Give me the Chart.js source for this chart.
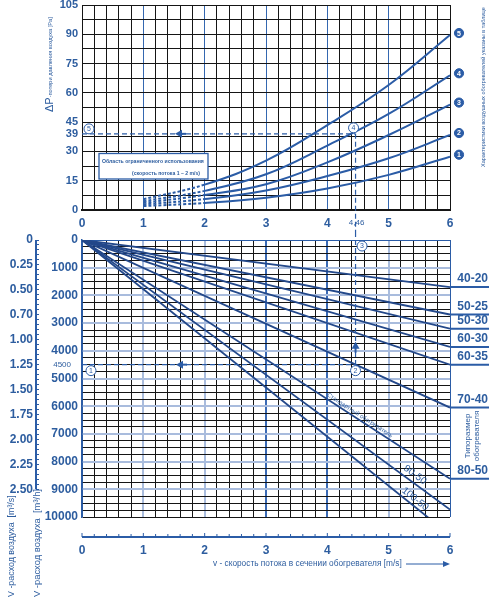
<!DOCTYPE html>
<html>
<head>
<meta charset="utf-8">
<script src="https://cdn.jsdelivr.net/npm/chart.js@4.4.1/dist/chart.umd.min.js"></script>
<style>
  html, body { margin: 0; padding: 0; background: #fff; }
  #topBox { position: absolute; left: 0; top: 0; width: 489px; height: 232px; }
  #botBox { position: absolute; left: 0; top: 232px; width: 489px; height: 369px; }
</style>
</head>
<body>
<div id="topBox"><canvas id="dpChart"></canvas></div>
<div id="botBox"><canvas id="flowChart"></canvas></div>
<script>
// ---- data ----
// top: pressure loss curves 1..5 vs face velocity
const speeds = [1, 2, 3, 4, 5, 6];
const dp1 = [2.0, 3.6, 6.3, 11.0, 18.0, 27.3];
const dp2 = [2.8, 5.6, 10.0, 17.4, 26.5, 38.4];
const dp3 = [3.6, 7.7, 13.2, 24.4, 38.4, 54.0];
const dp4 = [4.5, 9.8, 18.3, 33.0, 49.2, 69.0];
const dp5 = [5.5, 13.0, 25.3, 43.5, 64.0, 89.6];
const dpTicks = [0, 15, 30, 39, 45, 60, 75, 90, 105];

// bottom: air flow [m3/h] at v = 0 and v = 6 m/s for each heater size
const heaterSizes = ['40-20', '50-25', '50-30', '60-30', '60-35', '70-40', '80-50', '90-50', '100-50'];
const flowAt6 = [1700, 2690, 3200, 3860, 4500, 6050, 8620, 9730, 10650];
const m3sLabels = ['0', '0.25', '0.50', '0.70', '1.00', '1.25', '1.50', '1.75', '2.00', '2.25', '2.50'];

// example reading
const exSpeed = 4.46;
const exDp = 39;
const exFlow = 4500;

const FONT = '"Liberation Sans", Arial, sans-serif';
const BLUE = '#2b5ca6';
const NAVY = '#23488a';
const TEXT = '#2d5d9f';
const LIGHT = '#a9bcdd';
const GRID = '#151515';

Chart.defaults.font.family = FONT;

function stepTicks(min, max, step) {
  const out = [];
  const n = Math.round((max - min) / step);
  for (let i = 0; i <= n; i++) out.push({ value: +(min + i * step).toFixed(4) });
  return out;
}
function isInt(v) { return Math.abs(v - Math.round(v)) < 1e-6; }
function noEdgePad(s) { s.paddingTop = 0; s.paddingBottom = 0; }

function fitFont(ctx, text, width, weight) {
  ctx.font = weight + ' 10px ' + FONT;
  const size = 10 * width / ctx.measureText(text).width;
  ctx.font = weight + ' ' + size.toFixed(2) + 'px ' + FONT;
}

function dashed(ctx, x1, y1, x2, y2) {
  ctx.save();
  ctx.strokeStyle = BLUE;
  ctx.lineWidth = 1.2;
  ctx.setLineDash([5, 3]);
  ctx.beginPath();
  ctx.moveTo(x1, y1);
  ctx.lineTo(x2, y2);
  ctx.stroke();
  ctx.restore();
}

function circleMark(ctx, x, y, txt, filled) {
  ctx.save();
  ctx.beginPath();
  ctx.arc(x, y, filled ? 4.6 : 5, 0, Math.PI * 2);
  ctx.fillStyle = filled ? BLUE : '#fff';
  ctx.fill();
  ctx.lineWidth = 1;
  ctx.strokeStyle = BLUE;
  ctx.stroke();
  ctx.fillStyle = filled ? '#fff' : BLUE;
  ctx.font = (filled ? 'bold ' : '') + '7px ' + FONT;
  ctx.textAlign = 'center';
  ctx.textBaseline = 'middle';
  ctx.fillText(txt, x, y + 0.5);
  ctx.restore();
}

function arrow(ctx, x, y, dir) {
  ctx.save();
  ctx.translate(x, y);
  if (dir === 'up') ctx.rotate(Math.PI / 2);
  ctx.fillStyle = BLUE;
  ctx.strokeStyle = BLUE;
  ctx.lineWidth = 2;
  ctx.beginPath();
  ctx.moveTo(-4, 0); ctx.lineTo(3, -4); ctx.lineTo(3, 4); ctx.closePath();
  ctx.fill();
  ctx.beginPath();
  ctx.moveTo(2, 0); ctx.lineTo(7, 0);
  ctx.stroke();
  ctx.restore();
}

// ---------- TOP CHART: pressure loss ----------
const dpDecor = {
  id: 'dpDecor',
  afterDraw(chart) {
    const ctx = chart.ctx;
    const a = chart.chartArea;
    const xs = chart.scales.x, ys = chart.scales.y;
    const xe = xs.getPixelForValue(exSpeed);
    const ye = ys.getPixelForValue(exDp);

    // limited-use box
    ctx.save();
    ctx.fillStyle = '#fff';
    ctx.fillRect(99, 153.5, 109, 25.5);
    ctx.strokeStyle = BLUE;
    ctx.lineWidth = 1.3;
    ctx.strokeRect(99, 153.5, 109, 25.5);
    ctx.fillStyle = TEXT;
    ctx.textBaseline = 'middle';
    ctx.textAlign = 'left';
    fitFont(ctx, 'Область ограниченного использования', 102, 'bold');
    ctx.fillText('Область ограниченного использования', 102, 162);
    fitFont(ctx, '(скорость потока 1 – 2 m/s)', 68, 'bold');
    ctx.fillText('(скорость потока 1 – 2 m/s)', 132, 173.3);
    ctx.restore();

    // example reading lines
    dashed(ctx, a.left, ye, xe, ye);
    dashed(ctx, xe, ye, xe, chart.height);
    arrow(ctx, a.left + 97, ye, 'left');
    circleMark(ctx, a.left + 7, ye - 5, '5', false);
    circleMark(ctx, xe - 2, ye - 6, '4', false);

    // curve numbers on the right
    const ends = [dp1, dp2, dp3, dp4, dp5];
    ends.forEach((vals, i) => {
      circleMark(ctx, a.right + 9, ys.getPixelForValue(vals[vals.length - 1]) - 2, String(i + 1), true);
    });

    ctx.save();
    ctx.fillStyle = TEXT;
    ctx.textBaseline = 'middle';
    // 4,46 tick label
    ctx.font = '8px ' + FONT;
    ctx.textAlign = 'center';
    ctx.fillText('4,46', xe + 1, 223);

    // y axis title
    ctx.save();
    ctx.translate(50, 112);
    ctx.rotate(-Math.PI / 2);
    ctx.textAlign = 'left';
    ctx.font = '11px ' + FONT;
    ctx.fillText('ΔP', 0, 0);
    const w = ctx.measureText('ΔP').width;
    fitFont(ctx, '-потери давления воздуха [Pa]', 95 - w, 'normal');
    ctx.fillText('-потери давления воздуха [Pa]', w, 0.5);
    ctx.restore();

    // right side note
    ctx.save();
    ctx.translate(483, 167);
    ctx.rotate(-Math.PI / 2);
    ctx.textAlign = 'left';
    fitFont(ctx, 'Характеристики воздушных обогревателей указаны в таблице', 160, 'normal');
    ctx.fillText('Характеристики воздушных обогревателей указаны в таблице', 0, 0);
    ctx.restore();
    ctx.restore();
  }
};

const dpCurves = [dp1, dp2, dp3, dp4, dp5];
new Chart(document.getElementById('dpChart'), {
  type: 'scatter',
  data: {
    datasets: dpCurves.map((vals, i) => ({
      label: String(i + 1),
      data: speeds.map((v, j) => ({ x: v, y: vals[j] })),
      showLine: true,
      borderColor: BLUE,
      borderWidth: 2,
      pointRadius: 0,
      tension: 0.4,
      segment: { borderDash: c => (c.p0.parsed.x < 2 ? [3, 2] : undefined) }
    }))
  },
  options: {
    responsive: true,
    maintainAspectRatio: false,
    animation: false,
    layout: { padding: { top: 5, right: 39, left: 0, bottom: 0 } },
    plugins: { legend: { display: false }, tooltip: { enabled: false } },
    scales: {
      x: {
        type: 'linear', min: 0, max: 6,
        afterBuildTicks: s => { s.ticks = stepTicks(0, 6, 0.2); },
        afterFit: s => { s.height = 22; },
        grid: {
          color: c => (isInt(c.tick.value) && c.tick.value > 0 && c.tick.value < 6 ? '#3467b0' : GRID),
          lineWidth: 1,
          drawTicks: false
        },
        border: { color: GRID, width: 2 },
        ticks: {
          autoSkip: false, maxRotation: 0, padding: 6, color: TEXT,
          font: { size: 12, weight: 'bold' },
          callback: v => (isInt(v) ? String(Math.round(v)) : '')
        }
      },
      y: {
        min: 0, max: 105,
        afterBuildTicks: s => {
          s.ticks = stepTicks(0, 105, 7.5).concat([{ value: 39 }]).sort((p, q) => p.value - q.value);
        },
        afterFit: s => { s.width = 82; noEdgePad(s); },
        grid: { color: c => (c.tick.value === 39 ? 'rgba(0,0,0,0)' : GRID), drawTicks: false },
        border: { color: GRID, width: 1 },
        ticks: {
          autoSkip: false, padding: 4, color: TEXT,
          font: { size: 11, weight: 'bold' },
          callback: v => (dpTicks.includes(v) ? String(v) : '')
        }
      }
    }
  },
  plugins: [dpDecor]
});

// ---------- BOTTOM CHART: air flow ----------
const flowDecor = {
  id: 'flowDecor',
  afterDraw(chart) {
    const ctx = chart.ctx;
    const a = chart.chartArea;
    const xs = chart.scales.x, ys = chart.scales.y, yS = chart.scales.yS;
    const xe = xs.getPixelForValue(exSpeed);
    const ye = ys.getPixelForValue(exFlow);

    // size labels at the right edge
    ctx.save();
    ctx.strokeStyle = BLUE;
    ctx.lineWidth = 2;
    ctx.fillStyle = TEXT;
    ctx.font = 'bold 12px ' + FONT;
    ctx.textAlign = 'right';
    ctx.textBaseline = 'middle';
    for (let i = 0; i < 7; i++) {
      const y = ys.getPixelForValue(flowAt6[i]);
      ctx.beginPath();
      ctx.moveTo(a.right, y);
      ctx.lineTo(chart.width, y);
      ctx.stroke();
      ctx.fillText(heaterSizes[i], chart.width - 1, y - 8);
    }
    ctx.restore();

    // "Типоразмер обогревателя"
    ctx.save();
    ctx.fillStyle = TEXT;
    ctx.font = '8px ' + FONT;
    ctx.textAlign = 'center';
    ctx.textBaseline = 'middle';
    ctx.translate(472, 436 - 232);
    ctx.rotate(-Math.PI / 2);
    ctx.fillText('Типоразмер', 0, -4.5);
    ctx.fillText('обогревателя', 0, 5);
    ctx.restore();

    // labels along the lines inside the plot
    function lineLabel(idx, v, text, size, off) {
      const x0 = xs.getPixelForValue(0), y0 = ys.getPixelForValue(0);
      const x1 = xs.getPixelForValue(6), y1 = ys.getPixelForValue(flowAt6[idx]);
      const ang = Math.atan2(y1 - y0, x1 - x0);
      const px = xs.getPixelForValue(v);
      const py = y0 + (y1 - y0) * (px - x0) / (x1 - x0);
      ctx.save();
      ctx.translate(px, py + off);
      ctx.rotate(ang);
      ctx.fillStyle = TEXT;
      ctx.font = size + 'px ' + FONT;
      ctx.textAlign = 'center';
      ctx.textBaseline = 'middle';
      ctx.fillText(text, 0, 0);
      ctx.restore();
    }
    lineLabel(6, 4.53, 'Стандартный обогреватель', 6, -5);
    lineLabel(7, 5.43, '90-50', 10, -9);
    lineLabel(8, 5.43, '100-50', 10, -8);

    // example reading
    dashed(ctx, xe, 0, xe, ye);
    dashed(ctx, a.left, ye, xe, ye);
    arrow(ctx, a.left + 98, ye, 'left');
    arrow(ctx, xe, ye - 19, 'up');
    circleMark(ctx, xe + 6.5, a.top + 6, '3', false);
    circleMark(ctx, xe, ye + 6, '2', false);
    circleMark(ctx, a.left + 9, ye + 6, '1', false);
    ctx.save();
    ctx.fillStyle = TEXT;
    ctx.font = '8px ' + FONT;
    ctx.textAlign = 'right';
    ctx.textBaseline = 'middle';
    ctx.fillText(String(exFlow), 71, ye);
    ctx.restore();

    // m3/s axis line
    ctx.save();
    ctx.strokeStyle = BLUE;
    ctx.lineWidth = 2;
    ctx.beginPath();
    ctx.moveTo(yS.right - 3, yS.getPixelForValue(0));
    ctx.lineTo(yS.right - 3, yS.getPixelForValue(2.5));
    ctx.stroke();
    ctx.restore();

    // lower velocity axis
    const ya = a.bottom + 20;
    ctx.save();
    ctx.strokeStyle = BLUE;
    ctx.lineWidth = 2;
    ctx.beginPath();
    ctx.moveTo(a.left, ya);
    ctx.lineTo(a.right, ya);
    ctx.stroke();
    ctx.lineWidth = 1;
    stepTicks(0, 6, 0.2).forEach(t => {
      const x = xs.getPixelForValue(t.value);
      ctx.beginPath();
      ctx.moveTo(x, ya);
      ctx.lineTo(x, ya - (isInt(t.value) ? 4 : 3));
      ctx.stroke();
    });
    ctx.restore();

    ctx.save();
    ctx.fillStyle = TEXT;
    ctx.textBaseline = 'middle';
    ctx.textAlign = 'left';
    const ttl = 'v - скорость потока в сечении обогревателя [m/s]';
    fitFont(ctx, ttl, 189, 'normal');
    ctx.fillText(ttl, 213, 564 - 232);
    ctx.strokeStyle = BLUE;
    ctx.lineWidth = 1;
    ctx.beginPath();
    ctx.moveTo(406, 564 - 232);
    ctx.lineTo(444, 564 - 232);
    ctx.stroke();
    ctx.fillStyle = BLUE;
    ctx.beginPath();
    ctx.moveTo(450, 564 - 232);
    ctx.lineTo(443, 564 - 232 - 3);
    ctx.lineTo(443, 564 - 232 + 3);
    ctx.closePath();
    ctx.fill();

    // flow axis titles
    ctx.fillStyle = TEXT;
    [[12, 'V -расход воздуха  [m³/s]', 102], [37.5, 'V -расход воздуха  [m³/h]', 108]].forEach(([x, t, len]) => {
      ctx.save();
      ctx.translate(x, 597 - 232);
      ctx.rotate(-Math.PI / 2);
      fitFont(ctx, t, len, 'normal');
      ctx.textAlign = 'left';
      ctx.fillText(t, 0, 0);
      ctx.restore();
    });
    ctx.restore();
  }
};

new Chart(document.getElementById('flowChart'), {
  type: 'scatter',
  data: {
    datasets: heaterSizes.map((name, i) => ({
      label: name,
      data: [{ x: 0, y: 0 }, { x: 6, y: flowAt6[i] }],
      showLine: true,
      borderColor: NAVY,
      borderWidth: 1.8,
      pointRadius: 0
    }))
  },
  options: {
    responsive: true,
    maintainAspectRatio: false,
    animation: false,
    layout: { padding: { top: 8, right: 39, left: 0, bottom: 0 } },
    plugins: { legend: { display: false }, tooltip: { enabled: false } },
    scales: {
      x: {
        type: 'linear', min: 0, max: 6, position: 'bottom',
        afterBuildTicks: s => { s.ticks = stepTicks(0, 6, 0.2); },
        afterFit: s => { s.height = 84; },
        grid: {
          color: c => {
            const v = c.tick.value;
            if (!isInt(v)) return GRID;
            if (v === 0 || v === 6) return BLUE;
            return (v === 3 || v === 4) ? '#3a6ab5' : LIGHT;
          },
          lineWidth: c => (isInt(c.tick.value) && c.tick.value > 0 && c.tick.value < 6 ? 2 : 1),
          drawTicks: false
        },
        border: { display: false },
        ticks: {
          autoSkip: false, maxRotation: 0, padding: 26, color: TEXT,
          font: { size: 12, weight: 'bold' },
          callback: v => (isInt(v) ? String(Math.round(v)) : '')
        }
      },
      y: {
        min: 0, max: 10000, reverse: true, position: 'left', weight: 0,
        afterBuildTicks: s => { s.ticks = stepTicks(0, 10000, 250); },
        afterFit: s => { s.width = 43; noEdgePad(s); },
        grid: {
          color: c => {
            const v = c.tick.value;
            if (v === 0) return BLUE;
            return (v % 1000 === 0 && v < 10000) ? LIGHT : GRID;
          },
          lineWidth: c => (c.tick.value % 1000 === 0 && c.tick.value > 0 && c.tick.value < 10000 ? 2 : 1),
          drawTicks: false
        },
        border: { color: BLUE, width: 1.5 },
        ticks: {
          autoSkip: false, padding: 4, color: TEXT,
          font: { size: 12, weight: 'bold' },
          callback: v => (v % 1000 === 0 ? String(v) : '')
        }
      },
      yS: {
        min: 0, max: 10000 / 3600, reverse: true, position: 'left', weight: 1,
        afterBuildTicks: s => { s.ticks = stepTicks(0, 2.5, 0.05); },
        afterFit: s => { s.width = 39; noEdgePad(s); },
        grid: { drawOnChartArea: false, drawTicks: true, tickLength: 3, color: BLUE },
        border: { display: false },
        ticks: {
          autoSkip: false, padding: 3, color: TEXT,
          font: { size: 12, weight: 'bold' },
          callback: (v, i) => (i % 5 === 0 ? m3sLabels[i / 5] : '')
        }
      }
    }
  },
  plugins: [flowDecor]
});
</script>
</body>
</html>
